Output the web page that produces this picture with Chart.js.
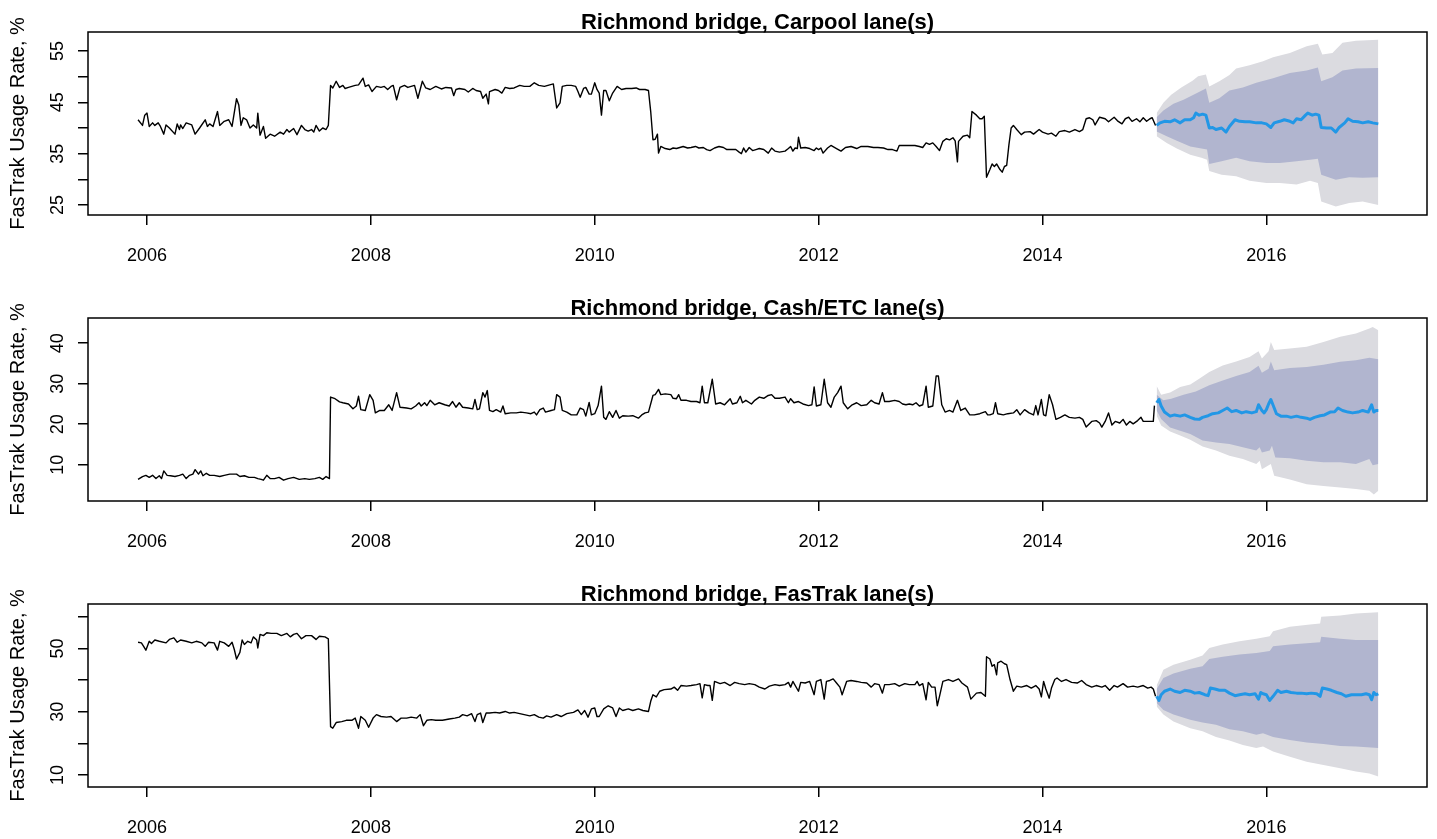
<!DOCTYPE html>
<html>
<head>
<meta charset="utf-8">
<script src="https://cdn.jsdelivr.net/npm/chart.js@4.4.1/dist/chart.umd.min.js"></script>
<style>
  html, body { margin: 0; padding: 0; background: #fff; overflow: hidden; }
  #wrap { position: relative; width: 1437px; height: 839px; }
  .panel { position: absolute; left: 0; width: 1437px; height: 286px; }
</style>
</head>
<body>
<div id="wrap">
  <div class="panel" style="top:0px"><canvas id="c1" width="1437" height="286"></canvas></div>
  <div class="panel" style="top:286px"><canvas id="c2" width="1437" height="286"></canvas></div>
  <div class="panel" style="top:572px"><canvas id="c3" width="1437" height="286"></canvas></div>
</div>
<script>
// x tick labels (years), shared by the three panels
const xTicks = [2006, 2008, 2010, 2012, 2014, 2016];

// ---- Carpool lane(s) : [year, rate %] ----
const carpoolHist = [[2005.92,41.6],[2005.96,40.5],[2005.98,42.5],[2006.00,42.9],[2006.02,40.3],[2006.05,41.0],[2006.07,40.5],[2006.10,41.0],[2006.12,40.3],[2006.15,38.8],[2006.17,40.6],[2006.20,40.0],[2006.25,38.8],[2006.27,40.8],[2006.29,39.7],[2006.30,40.6],[2006.32,39.9],[2006.35,41.0],[2006.40,40.6],[2006.43,38.8],[2006.47,40.0],[2006.52,41.6],[2006.54,40.3],[2006.56,40.8],[2006.59,40.3],[2006.63,43.2],[2006.65,40.5],[2006.69,41.3],[2006.73,41.6],[2006.76,40.3],[2006.80,45.7],[2006.82,44.5],[2006.84,40.5],[2006.86,42.0],[2006.89,41.6],[2006.92,40.0],[2006.95,40.6],[2006.98,40.0],[2006.99,42.9],[2007.01,38.6],[2007.04,40.3],[2007.06,38.0],[2007.10,38.8],[2007.14,38.4],[2007.19,39.2],[2007.22,38.8],[2007.25,39.7],[2007.27,39.2],[2007.31,39.9],[2007.34,38.7],[2007.38,40.5],[2007.41,39.7],[2007.44,39.4],[2007.47,39.7],[2007.49,39.2],[2007.51,40.5],[2007.54,39.4],[2007.57,40.0],[2007.60,39.7],[2007.62,40.5],
  [2007.64,48.3],[2007.66,47.8],[2007.69,49.1],[2007.72,47.9],[2007.75,48.3],[2007.77,47.7],[2007.80,47.9],[2007.83,48.1],[2007.86,48.3],[2007.89,48.4],[2007.93,49.7],[2007.95,48.1],[2007.98,48.4],[2008.01,47.1],[2008.05,48.1],[2008.09,47.9],[2008.12,48.1],[2008.15,47.5],[2008.18,48.1],[2008.20,48.3],[2008.23,45.5],[2008.26,47.9],[2008.30,48.3],[2008.33,47.9],[2008.36,48.1],[2008.39,48.3],[2008.42,45.8],[2008.46,49.1],[2008.49,47.8],[2008.53,47.5],[2008.58,48.1],[2008.63,47.6],[2008.67,47.9],[2008.72,47.8],[2008.74,46.3],[2008.76,47.5],[2008.79,47.7],[2008.84,47.5],[2008.87,47.0],[2008.91,47.7],[2008.94,47.3],[2008.98,47.1],[2009.00,45.8],[2009.03,46.6],[2009.05,44.7],[2009.06,47.1],[2009.11,47.5],[2009.14,47.3],[2009.17,46.8],[2009.20,47.9],[2009.24,47.7],[2009.28,47.8],[2009.33,48.3],[2009.37,48.1],[2009.42,48.1],[2009.46,48.8],[2009.50,48.3],
  [2009.55,48.1],[2009.63,48.6],[2009.66,43.9],[2009.69,44.9],[2009.71,48.1],[2009.75,48.3],[2009.79,48.3],[2009.83,48.1],[2009.85,47.1],[2009.87,46.0],[2009.90,47.7],[2009.92,47.9],[2009.95,46.6],[2009.97,46.6],[2010.00,48.8],[2010.02,47.5],[2010.04,46.8],[2010.06,42.5],[2010.08,47.3],[2010.10,47.3],[2010.13,45.3],[2010.16,46.8],[2010.20,48.1],[2010.24,47.5],[2010.28,47.7],[2010.33,47.7],[2010.37,47.8],[2010.40,47.5],[2010.45,47.5],[2010.48,47.3],[2010.50,43.2],[2010.52,37.7],[2010.54,37.8],[2010.56,38.8],[2010.57,35.1],[2010.59,36.4],[2010.63,36.0],[2010.67,35.8],[2010.70,36.1],[2010.73,36.0],[2010.76,36.2],[2010.79,36.4],[2010.83,36.1],[2010.86,36.2],[2010.90,36.4],[2010.93,36.1],[2010.97,36.2],[2011.00,35.8],[2011.03,35.6],[2011.07,36.1],[2011.11,36.4],[2011.15,36.2],[2011.18,35.8],[2011.23,35.8],[2011.26,35.8],[2011.29,35.3],[2011.31,35.0],[2011.33,36.1],[2011.35,35.3],[2011.38,36.2],[2011.41,35.6],[2011.44,35.8],[2011.47,36.0],[2011.51,35.8],[2011.55,35.1],[2011.58,36.1],[2011.61,35.5],[2011.65,35.3],[2011.70,35.5],[2011.73,36.0],[2011.75,36.4],[2011.77,35.5],[2011.79,36.1],[2011.81,36.0],[2011.82,38.2],[2011.84,36.1],[2011.88,36.2],[2011.92,36.0],[2011.96,35.6],[2011.98,36.1],[2012.00,35.8],[2012.02,36.1],[2012.04,35.1],[2012.08,36.1],[2012.11,36.6],[2012.16,36.0],[2012.20,35.5],[2012.24,36.2],[2012.29,36.4],[2012.34,36.0],[2012.38,36.4],[2012.44,36.4],[2012.49,36.2],[2012.53,36.2],[2012.58,36.1],[2012.62,35.8],[2012.66,35.8],[2012.70,35.5],[2012.72,36.6],[2012.77,36.6],[2012.81,36.6],[2012.86,36.6],[2012.90,36.4],[2012.93,36.2],[2012.96,37.1],[2012.99,36.8],[2013.02,37.1],[2013.05,36.4],[2013.08,35.6],[2013.11,37.4],[2013.14,37.9],[2013.17,37.7],[2013.20,38.1],[2013.22,37.5],[2013.24,33.4],[2013.25,37.4],[2013.29,38.4],[2013.33,38.6],[2013.35,38.1],[2013.37,43.2],[2013.41,42.5],[2013.44,41.8],[2013.46,41.8],[2013.48,42.3],[2013.50,30.4],[2013.53,31.9],
  [2013.55,33.0],[2013.57,32.5],[2013.59,33.0],[2013.62,31.9],[2013.64,31.4],[2013.66,32.5],[2013.68,32.7],[2013.70,36.7],[2013.72,40.0],[2013.74,40.5],[2013.77,39.7],[2013.81,38.7],[2013.84,39.2],[2013.89,39.3],[2013.92,38.8],[2013.97,39.7],[2014.00,39.2],[2014.05,38.8],[2014.08,39.0],[2014.12,38.4],[2014.15,39.3],[2014.20,39.5],[2014.24,39.2],[2014.29,39.7],[2014.33,39.3],[2014.36,39.7],[2014.39,41.8],[2014.42,42.0],[2014.45,41.6],[2014.47,40.6],[2014.51,42.1],[2014.56,41.8],[2014.59,41.2],[2014.64,42.1],[2014.67,41.4],[2014.71,40.8],[2014.74,41.8],[2014.77,42.1],[2014.80,41.3],[2014.84,41.8],[2014.87,41.2],[2014.90,42.0],[2014.93,41.3],[2014.96,41.8],[2014.98,42.0],[2015.01,40.5]];
const carpoolFc = [[2015.02,40.5],[2015.05,41.0],[2015.09,41.3],[2015.14,41.2],[2015.18,41.6],[2015.23,41.0],[2015.27,41.6],[2015.32,41.6],[2015.35,42.0],[2015.37,42.9],[2015.40,42.5],[2015.43,42.7],[2015.46,42.5],[2015.49,40.0],[2015.52,40.1],[2015.55,39.7],[2015.60,40.0],[2015.64,39.2],[2015.67,40.3],[2015.72,41.6],[2015.76,41.3],[2015.81,41.2],[2015.85,41.2],[2015.91,41.0],[2015.96,41.0],[2016.00,40.8],[2016.04,40.1],[2016.07,41.0],[2016.12,41.3],[2016.16,41.6],[2016.21,41.3],[2016.24,41.0],[2016.27,41.8],[2016.31,41.6],[2016.35,42.5],[2016.37,42.9],[2016.41,42.5],[2016.44,42.7],[2016.47,42.5],[2016.49,40.1],[2016.54,40.0],[2016.58,40.0],[2016.62,39.2],[2016.65,40.1],[2016.70,41.0],[2016.73,41.8],[2016.77,41.3],[2016.82,41.2],[2016.86,41.0],[2016.91,41.2],[2016.95,41.0],[2017.00,40.8]];
const carpoolHi95 = [[2015.02,42.9],[2015.08,44.9],[2015.15,46.5],[2015.24,47.9],[2015.34,49.2],[2015.39,50.1],[2015.46,50.4],[2015.49,48.1],[2015.58,49.1],[2015.67,50.3],[2015.73,51.6],[2015.85,52.2],[2015.97,53.0],[2016.06,53.8],[2016.21,54.6],[2016.36,55.9],[2016.46,56.4],[2016.50,54.3],[2016.59,54.6],[2016.68,56.6],[2016.80,57.0],[2017.00,57.2]];
const carpoolHi80 = [[2015.02,42.1],[2015.08,43.4],[2015.17,44.7],[2015.26,45.5],[2015.38,46.8],[2015.46,47.7],[2015.49,44.9],[2015.58,45.8],[2015.67,47.3],[2015.79,47.9],[2015.91,48.8],[2016.06,49.7],[2016.21,50.7],[2016.36,51.2],[2016.46,51.8],[2016.49,49.1],[2016.59,49.9],[2016.68,51.2],[2016.80,51.6],[2017.00,51.7]];
const carpoolLo80 = [[2015.02,39.3],[2015.11,38.4],[2015.20,37.5],[2015.32,36.4],[2015.42,36.0],[2015.47,35.8],[2015.49,33.0],[2015.60,33.5],[2015.73,34.2],[2015.85,33.5],[2016.00,33.2],[2016.12,33.2],[2016.27,33.5],[2016.39,33.8],[2016.46,34.0],[2016.49,30.9],[2016.62,29.9],[2016.74,30.4],[2016.86,30.3],[2017.00,30.4]];
const carpoolLo95 = [[2015.02,38.4],[2015.11,37.1],[2015.20,36.0],[2015.32,34.8],[2015.42,34.2],[2015.47,33.8],[2015.49,31.6],[2015.60,30.9],[2015.73,30.6],[2015.85,29.7],[2016.00,29.3],[2016.12,29.3],[2016.27,29.0],[2016.39,29.7],[2016.46,29.3],[2016.49,25.7],[2016.62,24.7],[2016.74,25.4],[2016.86,25.7],[2017.00,25.0]];

// ---- Cash/ETC lane(s) ----
const cashHist = [[2005.92,6.4],[2005.96,7.1],[2005.99,7.4],[2006.02,6.9],[2006.05,7.4],[2006.08,6.6],[2006.11,7.3],[2006.13,6.6],[2006.15,8.5],[2006.18,7.4],[2006.21,7.3],[2006.25,7.1],[2006.29,7.4],[2006.32,7.7],[2006.35,6.6],[2006.38,7.4],[2006.41,7.7],[2006.43,8.8],[2006.46,7.7],[2006.48,8.5],[2006.50,7.3],[2006.53,7.9],[2006.56,7.4],[2006.60,7.4],[2006.65,7.1],[2006.69,7.4],[2006.74,7.7],[2006.80,7.7],[2006.83,7.1],[2006.87,7.3],[2006.91,6.9],[2006.96,6.9],[2006.99,6.6],[2007.02,6.4],[2007.04,6.2],[2007.07,7.4],[2007.10,6.6],[2007.14,6.6],[2007.18,6.9],[2007.22,6.2],[2007.26,6.6],[2007.31,6.9],[2007.36,6.4],[2007.41,6.6],[2007.45,6.4],[2007.50,6.6],[2007.54,6.9],[2007.57,6.4],[2007.60,7.1],[2007.63,6.6],
  [2007.64,26.7],[2007.68,26.3],[2007.72,25.5],[2007.75,25.3],[2007.80,25.0],[2007.84,23.8],[2007.87,24.5],[2007.89,26.9],[2007.91,23.6],[2007.95,23.4],[2007.99,27.3],[2008.02,25.9],[2008.04,22.8],[2008.08,23.4],[2008.12,23.4],[2008.16,24.8],[2008.19,23.4],[2008.23,27.8],[2008.26,24.2],[2008.32,24.0],[2008.36,23.8],[2008.40,24.5],[2008.43,25.3],[2008.45,24.5],[2008.48,25.3],[2008.50,24.6],[2008.53,25.9],[2008.57,24.8],[2008.61,25.3],[2008.66,24.8],[2008.70,24.5],[2008.73,25.6],[2008.76,24.2],[2008.79,25.3],[2008.82,24.2],[2008.87,24.0],[2008.91,23.8],[2008.93,26.1],[2008.95,23.6],[2008.97,23.8],[2009.00,27.8],[2009.02,26.7],[2009.04,28.3],[2009.06,23.4],[2009.09,23.1],[2009.12,23.6],[2009.16,23.0],[2009.18,24.5],[2009.20,22.6],[2009.25,22.8],[2009.30,22.8],[2009.34,23.0],[2009.39,22.8],[2009.43,22.6],[2009.46,23.0],[2009.48,22.3],[2009.51,23.6],
  [2009.54,24.0],[2009.56,23.0],[2009.61,23.4],[2009.64,23.6],[2009.66,27.3],[2009.69,26.7],[2009.71,23.4],[2009.75,23.0],[2009.79,22.3],[2009.84,22.3],[2009.87,24.0],[2009.90,23.6],[2009.92,22.0],[2009.95,25.4],[2009.97,22.3],[2010.00,22.6],[2010.03,24.6],[2010.06,29.4],[2010.08,21.7],[2010.10,21.2],[2010.13,23.1],[2010.16,21.7],[2010.19,23.4],[2010.22,21.5],[2010.25,22.1],[2010.30,22.0],[2010.34,22.1],[2010.39,21.5],[2010.42,22.3],[2010.45,22.8],[2010.48,23.0],[2010.52,27.1],[2010.54,27.3],[2010.57,28.6],[2010.59,27.3],[2010.63,27.5],[2010.68,27.3],[2010.70,26.4],[2010.73,26.3],[2010.75,27.3],[2010.77,25.9],[2010.82,25.9],[2010.86,25.6],[2010.91,25.6],[2010.94,25.3],[2010.96,29.4],[2010.98,25.3],[2011.01,25.3],[2011.05,31.1],[2011.08,25.0],[2011.12,25.3],[2011.16,24.8],[2011.21,26.3],[2011.23,25.0],[2011.27,25.3],[2011.30,26.9],[2011.32,25.3],[2011.35,25.9],[2011.40,25.0],[2011.43,25.9],[2011.47,26.7],[2011.51,26.4],[2011.55,27.1],[2011.58,27.3],[2011.61,26.4],[2011.65,26.4],[2011.70,26.7],[2011.73,25.3],[2011.75,26.3],[2011.78,25.3],[2011.82,25.6],[2011.86,25.0],[2011.91,24.6],[2011.94,24.8],[2011.96,29.2],[2011.98,24.5],[2012.02,24.8],[2012.05,31.1],[2012.08,25.3],[2012.11,24.2],[2012.14,26.7],[2012.17,27.8],[2012.20,29.4],[2012.22,25.3],[2012.26,23.8],[2012.30,24.8],[2012.34,25.3],[2012.38,24.6],[2012.43,24.8],[2012.47,25.9],[2012.50,25.3],[2012.54,25.0],[2012.57,27.8],[2012.59,25.6],[2012.63,25.6],[2012.68,25.9],[2012.72,25.6],[2012.75,25.0],[2012.78,24.8],[2012.81,25.0],[2012.84,24.8],[2012.87,25.3],[2012.90,24.5],[2012.93,24.8],[2012.96,29.4],[2012.98,24.2],[2013.02,24.5],[2013.05,31.9],[2013.07,31.9],[2013.10,24.8],[2013.13,23.0],[2013.17,23.4],[2013.20,23.0],[2013.24,25.9],[2013.27,23.4],[2013.31,24.0],[2013.35,22.3],[2013.39,22.3],[2013.44,22.6],[2013.49,23.1],[2013.51,22.3],
  [2013.53,22.3],[2013.56,22.6],[2013.58,25.3],[2013.60,22.6],[2013.65,22.3],[2013.69,22.6],[2013.74,22.8],[2013.77,23.6],[2013.80,22.3],[2013.84,23.6],[2013.88,22.8],[2013.92,22.3],[2013.94,24.6],[2013.96,22.3],[2013.99,26.1],[2014.01,22.3],[2014.03,22.1],[2014.06,27.3],[2014.09,24.8],[2014.12,21.2],[2014.16,21.7],[2014.20,22.3],[2014.24,21.7],[2014.29,21.5],[2014.33,21.7],[2014.36,21.2],[2014.39,19.3],[2014.44,20.7],[2014.48,20.9],[2014.51,20.3],[2014.53,19.3],[2014.56,20.7],[2014.59,22.8],[2014.62,19.8],[2014.65,20.7],[2014.69,20.3],[2014.72,21.2],[2014.75,19.8],[2014.78,20.7],[2014.81,20.1],[2014.85,20.9],[2014.88,21.7],[2014.90,20.7],[2014.93,20.7],[2014.96,20.7],[2014.99,20.7],[2015.00,24.6]];
const cashFc = [[2015.02,25.3],[2015.04,26.1],[2015.06,24.5],[2015.09,23.0],[2015.14,22.0],[2015.18,22.3],[2015.23,22.0],[2015.27,22.3],[2015.32,21.7],[2015.36,21.3],[2015.40,21.2],[2015.43,21.7],[2015.48,22.1],[2015.52,22.6],[2015.57,22.8],[2015.61,23.4],[2015.65,24.0],[2015.69,23.1],[2015.73,23.4],[2015.78,22.8],[2015.82,23.1],[2015.87,22.8],[2015.91,23.1],[2015.93,24.8],[2015.96,23.4],[2015.98,22.8],[2016.00,23.6],[2016.02,25.0],[2016.04,26.1],[2016.07,24.0],[2016.09,22.6],[2016.13,22.0],[2016.18,22.0],[2016.22,21.7],[2016.27,22.0],[2016.31,21.7],[2016.36,21.5],[2016.39,21.2],[2016.43,21.7],[2016.48,22.1],[2016.52,22.3],[2016.57,23.0],[2016.61,23.1],[2016.64,24.0],[2016.68,23.4],[2016.73,23.0],[2016.77,22.8],[2016.82,23.0],[2016.86,23.4],[2016.91,23.0],[2016.94,24.8],[2016.96,23.0],[2016.98,23.4],[2017.00,23.4]];
const cashHi95 = [[2015.02,29.4],[2015.06,27.3],[2015.14,27.8],[2015.23,29.2],[2015.32,29.8],[2015.40,31.2],[2015.49,32.9],[2015.61,34.5],[2015.73,35.5],[2015.85,36.6],[2015.93,38.0],[2015.96,36.2],[2016.02,38.0],[2016.04,40.3],[2016.07,38.3],[2016.21,38.7],[2016.36,39.1],[2016.51,40.3],[2016.66,41.6],[2016.80,42.4],[2016.92,43.6],[2016.95,44.0],[2017.00,43.2]];
const cashHi80 = [[2015.02,27.3],[2015.08,25.9],[2015.15,26.3],[2015.26,27.3],[2015.37,28.1],[2015.49,29.6],[2015.61,30.8],[2015.73,31.9],[2015.85,32.9],[2015.93,34.4],[2015.96,32.7],[2016.02,33.7],[2016.04,35.5],[2016.07,33.3],[2016.21,33.9],[2016.36,34.1],[2016.51,34.7],[2016.66,35.4],[2016.80,35.8],[2016.92,36.4],[2017.00,36.0]];
const cashLo80 = [[2015.02,23.4],[2015.06,21.3],[2015.14,19.2],[2015.23,18.4],[2015.32,17.6],[2015.43,16.0],[2015.55,15.5],[2015.67,15.1],[2015.79,14.3],[2015.91,13.5],[2015.94,14.3],[2015.96,13.0],[2016.03,13.5],[2016.05,14.7],[2016.08,11.8],[2016.21,11.6],[2016.36,11.0],[2016.51,10.6],[2016.66,10.6],[2016.80,10.2],[2016.92,11.4],[2016.95,9.9],[2017.00,10.2]];
const cashLo95 = [[2015.02,22.1],[2015.06,19.7],[2015.14,18.2],[2015.23,17.2],[2015.32,16.2],[2015.43,14.5],[2015.55,13.5],[2015.67,12.2],[2015.79,11.4],[2015.91,10.2],[2015.94,11.0],[2015.96,8.9],[2016.04,10.2],[2016.07,7.3],[2016.21,6.4],[2016.36,5.2],[2016.51,4.8],[2016.66,4.4],[2016.80,4.0],[2016.92,3.6],[2016.96,2.7],[2017.00,3.6]];

// ---- FasTrak lane(s) ----
const fastrakHist = [[2005.92,52.0],[2005.95,51.8],[2005.97,50.7],[2005.99,49.5],[2006.02,52.3],[2006.04,51.6],[2006.07,52.7],[2006.11,52.3],[2006.17,51.8],[2006.20,52.9],[2006.24,53.4],[2006.27,52.0],[2006.30,52.7],[2006.35,52.3],[2006.40,51.8],[2006.44,52.3],[2006.49,51.8],[2006.52,50.7],[2006.55,52.0],[2006.60,51.8],[2006.63,49.5],[2006.65,52.3],[2006.69,51.8],[2006.73,50.7],[2006.76,52.0],[2006.78,49.7],[2006.80,46.7],[2006.83,48.8],[2006.85,52.7],[2006.87,51.3],[2006.90,52.3],[2006.93,51.8],[2006.95,53.7],[2006.98,52.7],[2006.99,50.2],[2007.01,54.5],[2007.04,54.1],[2007.07,55.0],[2007.11,54.8],[2007.16,54.8],[2007.20,54.1],[2007.25,54.8],[2007.28,53.7],[2007.31,54.5],[2007.34,54.8],[2007.38,53.1],[2007.42,54.1],[2007.47,54.1],[2007.51,52.9],[2007.54,53.9],[2007.59,53.7],[2007.62,53.1],
  [2007.64,25.3],[2007.66,24.8],[2007.69,26.6],[2007.74,26.9],[2007.78,27.3],[2007.83,27.3],[2007.86,28.0],[2007.89,24.8],[2007.91,28.5],[2007.95,27.3],[2007.98,25.1],[2008.02,28.0],[2008.05,29.1],[2008.09,28.5],[2008.14,28.3],[2008.18,28.5],[2008.23,26.9],[2008.27,28.0],[2008.32,28.0],[2008.36,28.3],[2008.41,28.0],[2008.44,29.1],[2008.47,25.6],[2008.50,27.3],[2008.54,27.5],[2008.58,27.3],[2008.64,27.3],[2008.70,27.7],[2008.75,28.0],[2008.79,28.3],[2008.82,29.1],[2008.86,28.7],[2008.90,29.4],[2008.93,26.9],[2008.95,29.1],[2008.98,29.6],[2009.00,26.6],[2009.03,29.6],[2009.06,29.6],[2009.11,29.8],[2009.15,29.6],[2009.20,30.1],[2009.24,29.6],[2009.28,29.8],[2009.33,29.4],[2009.37,29.1],[2009.42,28.7],[2009.46,29.1],[2009.50,28.3],
  [2009.54,28.0],[2009.57,28.7],[2009.61,28.3],[2009.66,29.1],[2009.70,28.5],[2009.75,29.4],[2009.81,29.8],[2009.85,30.6],[2009.88,29.1],[2009.91,30.4],[2009.94,28.3],[2009.97,30.9],[2010.00,31.2],[2010.02,28.5],[2010.04,28.5],[2010.08,30.9],[2010.12,31.9],[2010.16,31.2],[2010.19,28.5],[2010.22,31.2],[2010.25,30.4],[2010.30,30.9],[2010.34,30.4],[2010.39,30.9],[2010.43,30.4],[2010.48,30.1],[2010.50,33.3],[2010.52,35.4],[2010.55,34.7],[2010.58,36.5],[2010.62,37.0],[2010.68,37.2],[2010.71,37.8],[2010.74,36.8],[2010.77,38.3],[2010.82,38.1],[2010.86,38.3],[2010.91,38.6],[2010.94,38.9],[2010.96,34.4],[2010.98,38.6],[2011.01,38.3],[2011.03,38.3],[2011.05,33.6],[2011.07,39.6],[2011.12,38.9],[2011.16,39.3],[2011.21,38.3],[2011.25,39.3],[2011.29,38.9],[2011.34,38.6],[2011.38,38.9],[2011.43,38.6],[2011.47,37.8],[2011.52,37.2],[2011.56,38.1],[2011.61,38.6],[2011.65,38.3],[2011.70,38.6],[2011.73,39.3],[2011.75,37.8],[2011.77,39.6],[2011.82,36.5],[2011.84,39.3],[2011.88,39.1],[2011.92,39.6],[2011.96,35.4],[2011.98,39.6],[2012.02,40.2],[2012.05,34.0],[2012.07,39.6],[2012.10,39.9],[2012.13,40.4],[2012.16,39.1],[2012.19,37.8],[2012.21,35.4],[2012.25,39.6],[2012.29,39.9],[2012.34,39.6],[2012.38,39.3],[2012.43,39.1],[2012.47,37.8],[2012.50,38.9],[2012.54,38.6],[2012.57,35.9],[2012.59,38.6],[2012.63,38.6],[2012.68,38.9],[2012.72,38.1],[2012.77,38.9],[2012.81,38.6],[2012.86,38.6],[2012.88,39.6],[2012.90,38.3],[2012.93,38.9],[2012.96,33.8],[2012.98,39.3],[2013.01,37.8],[2013.04,37.8],[2013.06,31.9],[2013.08,34.9],[2013.11,39.6],[2013.16,40.2],[2013.20,39.6],[2013.25,40.4],[2013.28,39.1],[2013.33,37.8],[2013.36,34.0],[2013.41,35.9],[2013.45,36.1],[2013.49,34.9],[2013.50,47.4],[2013.53,46.7],
  [2013.55,44.4],[2013.57,44.9],[2013.59,41.7],[2013.60,45.5],[2013.63,46.0],[2013.66,45.2],[2013.68,44.9],[2013.71,40.2],[2013.74,36.5],[2013.77,38.1],[2013.81,37.8],[2013.86,38.3],[2013.90,37.5],[2013.94,38.3],[2013.97,37.2],[2013.99,34.7],[2014.01,39.6],[2014.03,37.2],[2014.06,34.3],[2014.08,37.5],[2014.11,40.2],[2014.13,40.7],[2014.17,39.6],[2014.21,40.2],[2014.26,39.3],[2014.31,39.1],[2014.35,39.9],[2014.39,38.6],[2014.44,37.8],[2014.48,38.3],[2014.53,37.8],[2014.56,38.3],[2014.60,36.8],[2014.64,38.3],[2014.67,37.8],[2014.72,38.9],[2014.76,37.8],[2014.81,38.1],[2014.85,37.8],[2014.90,38.3],[2014.94,37.5],[2014.97,37.8],[2014.99,37.2],[2015.01,34.9]];
const fastrakFc = [[2015.02,34.9],[2015.04,33.6],[2015.06,35.4],[2015.09,36.5],[2015.14,37.2],[2015.18,36.5],[2015.23,36.1],[2015.27,36.8],[2015.32,36.5],[2015.36,35.9],[2015.40,36.1],[2015.45,35.4],[2015.48,35.1],[2015.50,37.5],[2015.54,37.2],[2015.58,36.8],[2015.63,36.8],[2015.67,35.9],[2015.72,35.1],[2015.76,35.4],[2015.81,35.7],[2015.85,35.4],[2015.90,35.7],[2015.93,34.0],[2015.95,36.1],[2015.97,35.7],[2016.00,35.4],[2016.03,33.6],[2016.06,34.9],[2016.10,36.8],[2016.13,36.1],[2016.18,36.5],[2016.22,36.1],[2016.27,35.9],[2016.31,35.9],[2016.36,35.7],[2016.40,35.9],[2016.45,35.7],[2016.48,34.9],[2016.50,37.5],[2016.54,37.2],[2016.58,36.8],[2016.63,36.1],[2016.67,35.7],[2016.71,34.9],[2016.76,35.4],[2016.80,35.4],[2016.85,35.4],[2016.89,35.7],[2016.92,35.4],[2016.94,33.8],[2016.96,36.1],[2016.98,35.4],[2017.00,35.7]];
const fastrakHi95 = [[2015.02,38.3],[2015.08,43.3],[2015.17,44.9],[2015.32,46.5],[2015.43,47.8],[2015.49,50.2],[2015.61,51.3],[2015.76,52.3],[2015.91,53.1],[2016.03,53.9],[2016.06,55.5],[2016.21,56.9],[2016.39,57.6],[2016.48,57.9],[2016.49,60.1],[2016.66,60.5],[2016.80,61.1],[2017.00,61.5]];
const fastrakHi80 = [[2015.02,37.2],[2015.08,40.7],[2015.17,42.1],[2015.32,43.6],[2015.43,44.4],[2015.49,46.7],[2015.61,47.4],[2015.76,48.1],[2015.91,48.6],[2016.03,49.2],[2016.06,50.7],[2016.21,51.3],[2016.39,51.8],[2016.48,52.0],[2016.49,53.7],[2016.66,53.1],[2016.80,52.7],[2017.00,52.7]];
const fastrakLo80 = [[2015.02,32.8],[2015.08,30.6],[2015.17,29.1],[2015.32,27.5],[2015.43,26.6],[2015.55,25.9],[2015.67,24.5],[2015.79,23.8],[2015.91,22.7],[2015.97,23.2],[2016.06,22.0],[2016.21,21.1],[2016.36,20.3],[2016.51,19.8],[2016.66,19.2],[2016.80,19.0],[2017.00,18.5]];
const fastrakLo95 = [[2015.02,31.7],[2015.08,29.1],[2015.17,26.9],[2015.32,24.8],[2015.43,23.8],[2015.55,22.0],[2015.67,20.9],[2015.79,19.5],[2015.91,18.5],[2015.97,19.0],[2016.06,17.4],[2016.21,15.8],[2016.36,14.2],[2016.51,13.2],[2016.66,12.1],[2016.80,11.1],[2016.92,10.5],[2017.00,9.5]];

// y ticks per panel, and which of them R printed a label for
const carpoolTicks = [25, 30, 35, 40, 45, 50, 55];
const carpoolLabels = [25, 35, 45, 55];
const cashTicks = [10, 20, 30, 40];
const cashLabels = [10, 20, 30, 40];
const fastrakTicks = [10, 20, 30, 40, 50, 60];
const fastrakLabels = [10, 30, 50];

Chart.defaults.font.family = '"Liberation Sans", Arial, Helvetica, sans-serif';
Chart.defaults.color = '#000';

function makePanel(id, title, hist, fc, hi80, lo80, hi95, lo95, yMin, yMax, yTicks, yLabels) {
  // box, title and rotated y labels, like base R graphics
  const rStyle = {
    id: 'rStyle',
    afterDraw(chart) {
      const ctx = chart.ctx, a = chart.chartArea;
      ctx.save();
      ctx.strokeStyle = '#000';
      ctx.lineWidth = 1.5;
      ctx.strokeRect(a.left, a.top, a.right - a.left, a.bottom - a.top);
      ctx.fillStyle = '#000';
      ctx.font = 'bold 22px "Liberation Sans", Arial, sans-serif';
      ctx.textAlign = 'center';
      ctx.textBaseline = 'alphabetic';
      ctx.fillText(title, (a.left + a.right) / 2, a.top - 3);
      ctx.font = '18px "Liberation Sans", Arial, sans-serif';
      ctx.textBaseline = 'middle';
      const ys = chart.scales.y;
      yLabels.forEach(function (v) {
        ctx.save();
        ctx.translate(a.left - 30, ys.getPixelForValue(v));
        ctx.rotate(-Math.PI / 2);
        ctx.fillText(String(v), 0, 0);
        ctx.restore();
      });
      ctx.restore();
    }
  };

  const band = function (data, color, fill) {
    return { data: data, borderWidth: 0, borderColor: 'rgba(0,0,0,0)', backgroundColor: color,
             pointRadius: 0, fill: fill, tension: 0 };
  };
  const axisGrid = { drawOnChartArea: false, drawTicks: true, tickLength: 10, color: '#000', lineWidth: 1.5 };

  return new Chart(document.getElementById(id), {
    type: 'line',
    data: {
      datasets: [
        { data: fc, borderColor: '#2297E6', borderWidth: 3, pointRadius: 0, fill: false, borderJoinStyle: 'round' },
        { data: hist, borderColor: '#000', borderWidth: 1.4, pointRadius: 0, fill: false, borderJoinStyle: 'round' },
        band(hi80, '#B1B5CF', '+1'),
        band(lo80, '#B1B5CF', false),
        band(hi95, '#DBDBE0', '+1'),
        band(lo95, '#DBDBE0', false)
      ]
    },
    options: {
      responsive: false,
      animation: false,
      devicePixelRatio: 1,
      events: [],
      layout: { padding: { top: 32, right: 10, left: 0, bottom: 0 } },
      plugins: { legend: { display: false }, tooltip: { enabled: false } },
      scales: {
        x: {
          type: 'linear', min: 2005.473, max: 2017.435,
          afterBuildTicks: function (s) { s.ticks = xTicks.map(function (v) { return { value: v }; }); },
          afterFit: function (s) { s.height = 71; },
          ticks: { font: { size: 18 }, color: '#000', padding: 20, maxRotation: 0, autoSkip: false,
                   callback: function (v) { return String(v); } },
          grid: axisGrid,
          border: { display: false }
        },
        y: {
          type: 'linear', min: yMin, max: yMax,
          afterBuildTicks: function (s) { s.ticks = yTicks.map(function (v) { return { value: v }; }); },
          afterFit: function (s) { s.width = 88; },
          ticks: { display: false },
          grid: axisGrid,
          border: { display: false },
          title: { display: true, text: 'FasTrak Usage Rate, %', color: '#000',
                   font: { size: 20 }, padding: { top: 6, bottom: 0 } }
        }
      }
    },
    plugins: [rStyle]
  });
}

makePanel('c1', 'Richmond bridge, Carpool lane(s)', carpoolHist, carpoolFc,
  carpoolHi80, carpoolLo80, carpoolHi95, carpoolLo95, 23.05, 58.7, carpoolTicks, carpoolLabels);
makePanel('c2', 'Richmond bridge, Cash/ETC lane(s)', cashHist, cashFc,
  cashHi80, cashLo80, cashHi95, cashLo95, 1.07, 46.2, cashTicks, cashLabels);
makePanel('c3', 'Richmond bridge, FasTrak lane(s)', fastrakHist, fastrakFc,
  fastrakHi80, fastrakLo80, fastrakHi95, fastrakLo95, 6.2, 64.1, fastrakTicks, fastrakLabels);
</script>
</body>
</html>
